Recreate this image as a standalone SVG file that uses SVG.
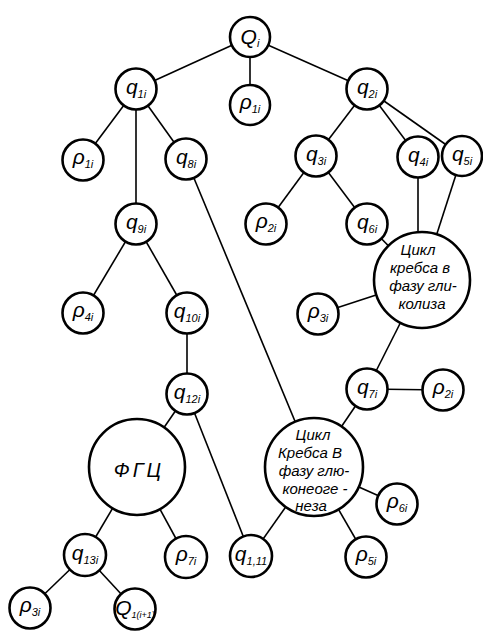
<svg xmlns="http://www.w3.org/2000/svg" width="483" height="631" viewBox="0 0 483 631">
  <style>
    .edge { stroke: #000; stroke-width: 1.6; fill: none; }
    .node { fill: #fff; stroke: #000; stroke-width: 2.6; }
    .lbl { font-family: "Liberation Sans", Arial, sans-serif; font-style: italic; font-size: 21px; fill: #000; text-anchor: middle; }
    .sub { font-size: 11px; }
    .tiny { font-size: 9px; }
    .big { font-family: "Liberation Sans", Arial, sans-serif; font-style: italic; font-size: 15px; fill: #000; text-anchor: middle; }
    .fgc { font-size: 20px; letter-spacing: 3px; }
  </style>
  <rect width="483" height="631" fill="#fff"/>

  <!-- connectors, drawn under the circles -->
  <g id="connectors">
    <line class="edge" x1="250" y1="37" x2="136" y2="89"/>
    <line class="edge" x1="250" y1="37" x2="250" y2="105"/>
    <line class="edge" x1="250" y1="37" x2="367" y2="89"/>
    <line class="edge" x1="136" y1="89" x2="83" y2="160"/>
    <line class="edge" x1="136" y1="89" x2="136" y2="224"/>
    <line class="edge" x1="136" y1="89" x2="186" y2="159"/>
    <line class="edge" x1="186" y1="159" x2="314" y2="467"/>
    <line class="edge" x1="367" y1="89" x2="316" y2="156"/>
    <line class="edge" x1="367" y1="89" x2="418" y2="157"/>
    <line class="edge" x1="367" y1="89" x2="462" y2="156"/>
    <line class="edge" x1="316" y1="156" x2="266" y2="224"/>
    <line class="edge" x1="316" y1="156" x2="367" y2="224"/>
    <line class="edge" x1="367" y1="224" x2="422" y2="280"/>
    <line class="edge" x1="418" y1="157" x2="418" y2="240"/>
    <line class="edge" x1="462" y1="156" x2="422" y2="280"/>
    <line class="edge" x1="318" y1="314" x2="422" y2="280"/>
    <line class="edge" x1="422" y1="280" x2="367" y2="389"/>
    <line class="edge" x1="367" y1="389" x2="443" y2="390"/>
    <line class="edge" x1="367" y1="389" x2="314" y2="467"/>
    <line class="edge" x1="314" y1="467" x2="397" y2="504"/>
    <line class="edge" x1="314" y1="467" x2="366" y2="557"/>
    <line class="edge" x1="314" y1="467" x2="251" y2="556"/>
    <line class="edge" x1="136" y1="224" x2="83" y2="313"/>
    <line class="edge" x1="136" y1="224" x2="187" y2="313"/>
    <line class="edge" x1="187" y1="313" x2="187" y2="394"/>
    <line class="edge" x1="187" y1="394" x2="137" y2="467"/>
    <line class="edge" x1="187" y1="394" x2="251" y2="556"/>
    <line class="edge" x1="137" y1="467" x2="85" y2="555"/>
    <line class="edge" x1="137" y1="467" x2="186" y2="557"/>
    <line class="edge" x1="85" y1="555" x2="30" y2="608"/>
    <line class="edge" x1="85" y1="555" x2="135" y2="609"/>
  </g>

  <!-- small state nodes -->
  <g id="Qi"><circle class="node" cx="250" cy="37" r="20"/><text class="lbl" x="250" y="44">Q<tspan class="sub" dy="3">i</tspan></text></g>
  <g id="rho1i-top"><circle class="node" cx="250" cy="105" r="20"/><text class="lbl" x="250" y="109">ρ<tspan class="sub" dy="4">1i</tspan></text></g>
  <g id="q1i"><circle class="node" cx="136" cy="89" r="20.5"/><text class="lbl" x="136" y="94">q<tspan class="sub" dy="4">1i</tspan></text></g>
  <g id="q2i"><circle class="node" cx="367" cy="89" r="20.5"/><text class="lbl" x="367" y="94">q<tspan class="sub" dy="4">2i</tspan></text></g>
  <g id="rho1i-left"><circle class="node" cx="83" cy="160" r="20.5"/><text class="lbl" x="83" y="164">ρ<tspan class="sub" dy="4">1i</tspan></text></g>
  <g id="q8i"><circle class="node" cx="186" cy="159" r="20.5"/><text class="lbl" x="186" y="164">q<tspan class="sub" dy="4">8i</tspan></text></g>
  <g id="q3i"><circle class="node" cx="316" cy="156" r="20.5"/><text class="lbl" x="316" y="161">q<tspan class="sub" dy="4">3i</tspan></text></g>
  <g id="q4i"><circle class="node" cx="418" cy="157" r="20.5"/><text class="lbl" x="418" y="162">q<tspan class="sub" dy="4">4i</tspan></text></g>
  <g id="q5i"><circle class="node" cx="462" cy="156" r="20"/><text class="lbl" x="462" y="161">q<tspan class="sub" dy="4">5i</tspan></text></g>
  <g id="rho2i-a"><circle class="node" cx="266" cy="224" r="20.5"/><text class="lbl" x="266" y="228">ρ<tspan class="sub" dy="4">2i</tspan></text></g>
  <g id="q6i"><circle class="node" cx="367" cy="224" r="20.5"/><text class="lbl" x="367" y="229">q<tspan class="sub" dy="4">6i</tspan></text></g>
  <g id="q9i"><circle class="node" cx="136" cy="224" r="20.5"/><text class="lbl" x="136" y="229">q<tspan class="sub" dy="4">9i</tspan></text></g>
  <g id="rho4i"><circle class="node" cx="83" cy="313" r="20.5"/><text class="lbl" x="83" y="317">ρ<tspan class="sub" dy="4">4i</tspan></text></g>
  <g id="q10i"><circle class="node" cx="187" cy="313" r="20.5"/><text class="lbl" x="187" y="318">q<tspan class="sub" dy="4">10i</tspan></text></g>
  <g id="rho3i-a"><circle class="node" cx="318" cy="314" r="20.5"/><text class="lbl" x="318" y="318">ρ<tspan class="sub" dy="4">3i</tspan></text></g>
  <g id="q7i"><circle class="node" cx="367" cy="389" r="20.5"/><text class="lbl" x="367" y="394">q<tspan class="sub" dy="4">7i</tspan></text></g>
  <g id="rho2i-b"><circle class="node" cx="443" cy="390" r="20.5"/><text class="lbl" x="443" y="394">ρ<tspan class="sub" dy="4">2i</tspan></text></g>
  <g id="q12i"><circle class="node" cx="187" cy="394" r="20.5"/><text class="lbl" x="187" y="399">q<tspan class="sub" dy="4">12i</tspan></text></g>
  <g id="rho6i"><circle class="node" cx="397" cy="504" r="20.5"/><text class="lbl" x="397" y="508">ρ<tspan class="sub" dy="4">6i</tspan></text></g>
  <g id="q13i"><circle class="node" cx="85" cy="555" r="21"/><text class="lbl" x="85" y="560">q<tspan class="sub" dy="4">13i</tspan></text></g>
  <g id="rho7i"><circle class="node" cx="186" cy="557" r="21"/><text class="lbl" x="186" y="561">ρ<tspan class="sub" dy="4">7i</tspan></text></g>
  <g id="q1-11"><circle class="node" cx="251" cy="556" r="21"/><text class="lbl" x="251" y="561">q<tspan class="sub" dy="4">1,11</tspan></text></g>
  <g id="rho5i"><circle class="node" cx="366" cy="557" r="20.5"/><text class="lbl" x="366" y="561">ρ<tspan class="sub" dy="4">5i</tspan></text></g>
  <g id="rho3i-b"><circle class="node" cx="30" cy="608" r="20.5"/><text class="lbl" x="30" y="612">ρ<tspan class="sub" dy="4">3i</tspan></text></g>
  <g id="Q1i1"><circle class="node" cx="135" cy="609" r="20.5"/><text class="lbl" x="135" y="615">Q<tspan class="tiny" dy="3">1(i+1)</tspan></text></g>

  <!-- large process nodes -->
  <g id="krebs-glycolysis">
    <circle class="node" cx="422" cy="280" r="48"/>
    <text class="big" x="418" y="255">Цикл</text>
    <text class="big" x="420" y="273">кребса в</text>
    <text class="big" x="423" y="291">фазу гли-</text>
    <text class="big" x="422" y="309">колиза</text>
  </g>
  <g id="krebs-gluconeogenesis">
    <circle class="node" cx="314" cy="467" r="49"/>
    <text class="big" x="313" y="440">Цикл</text>
    <text class="big" x="310" y="458">Кребса В</text>
    <text class="big" x="314" y="476">фазу глю-</text>
    <text class="big" x="315" y="494">конеоге -</text>
    <text class="big" x="311" y="511">неза</text>
  </g>
  <g id="fgc">
    <circle class="node" cx="137" cy="467" r="48"/>
    <text class="big fgc" x="139" y="477">ФГЦ</text>
  </g>
</svg>
